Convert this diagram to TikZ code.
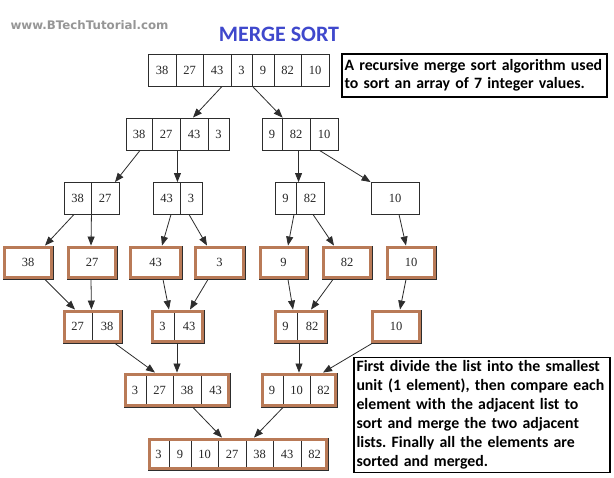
\documentclass[tikz,border=0pt]{standalone}
\usepackage{fontspec}
\setmainfont{Liberation Serif}
\newfontfamily\calfont{Carlito}
\newfontfamily\wmfont{DejaVu Sans}
\usetikzlibrary{arrows.meta,fit}
\definecolor{brownc}{RGB}{185,122,87}
\definecolor{titleblue}{RGB}{63,72,204}
\definecolor{wmgray}{RGB}{150,150,150}
\definecolor{linec}{RGB}{45,45,45}
\frenchspacing
\newcommand\mkrow[3]{%
  \foreach \nm/\xl/\xr/\lab in {#3}{%
    \node[cell, minimum width={\xr-\xl}, minimum height={#2-#1}] (\nm) at ({(\xl+\xr)/2},{(#1+#2)/2}) {\lab};
  }}
\begin{document}
\begin{tikzpicture}[x=1pt,y=-1pt,
  cell/.style={draw=linec, line width=0.9pt, inner sep=0pt, text=black!85,
    font=\fontsize{12.5}{14}\selectfont},
  brownbox/.style={draw=brownc, line width=3.5pt, inner sep=-1.75pt},
  arr/.style={draw=linec, line width=0.8pt, -{Triangle[length=9pt,width=7pt]}},
  infobox/.style={draw=black, line width=1.3pt, inner xsep=2.5pt, inner ysep=0pt,
    align=left, text=black}]
\fill[white] (0,0) rectangle (614,478);
\useasboundingbox (0,0) rectangle (614,478);

\node[font=\wmfont\bfseries\fontsize{11.8}{14}\selectfont, text=wmgray, anchor=west] (wm) at (7,25) {www.BTechTutorial.com};
\node[font=\calfont\bfseries\fontsize{22}{26}\selectfont, text=titleblue] (title) at (279,34) {MERGE SORT};

% level 1
\mkrow{54}{86}{t1/148/176/38, t2/176/203/27, t3/203/231/43, t4/231/252/3, t5/252/274/9, t6/274/301/82, t7/301/329/10}
% level 2
\mkrow{118}{150}{p1/126/152/38, p2/152/180/27, p3/180/208/43, p4/208/229/3}
\mkrow{118}{150}{q1/262/282/9, q2/282/310/82, q3/310/338/10}
% level 3
\mkrow{182.5}{214}{a1/64/91/38, a2/91/119/27, b1/153/180/43, b2/180/202/3, c1/275/296/9, c2/296/324/82, d1/371/419/10}
% level 4
\mkrow{246}{279}{s1/3/53/38, s2/67/117/27, s3/129/182/43, s4/194/245/3, s5/259/308/9, s6/322/372/82, s7/386/436/10}
% level 5
\mkrow{310}{343}{e1/63/92/27, e2/92/122/38, f1/151/174/3, f2/174/204/43, g1/274/297/9, g2/297/327/82, h1/371/421/10}
% level 6
\mkrow{373}{407}{i1/124/146/3, i2/146/173/27, i3/173/201/38, i4/201/230/43, j1/261/283/9, j2/283/310/10, j3/310/337/82}
% level 7
\mkrow{438}{470}{k1/148/169/3, k2/169/191/9, k3/191/218/10, k4/218/246/27, k5/246/273/38, k6/273/301/43, k7/301/328/82}

% brown outlines
\foreach \c in {s1,s2,s3,s4,s5,s6,s7,h1}{\node[brownbox, fit=(\c)] (B\c) {};}
\node[brownbox, fit=(e1)(e2)] (E) {};
\node[brownbox, fit=(f1)(f2)] (F) {};
\node[brownbox, fit=(g1)(g2)] (G) {};
\node[brownbox, fit=(i1)(i4)] (I) {};
\node[brownbox, fit=(j1)(j3)] (J) {};
\node[brownbox, fit=(k1)(k7)] (K) {};

% arrows
\draw[arr] ([xshift=5pt]t3.south) -- ([xshift=-1pt]p3.north);
\draw[arr] ([xshift=1pt]t5.south west) -- ([xshift=1pt]q2.north west);
\draw[arr] ([xshift=1pt]p1.south) -- ([xshift=10pt]a2.north);
\draw[arr] ([xshift=-3pt]p2.south east) -- ([xshift=-3pt]b1.north east);
\draw[arr] ([xshift=17pt]q2.south west) -- ([xshift=3pt]c2.north west);
\draw[arr] ([xshift=10pt]q3.south west) -- (d1.north west);
\draw[arr] ([xshift=-3.5pt]a1.south) -- ([xshift=17pt]s1.north);
\draw[arr] (a1.south east) -- ([xshift=-1pt]s2.north);
\draw[arr] ([xshift=4.5pt]b1.south) -- ([xshift=6.5pt]s3.north);
\draw[arr] ([xshift=-2pt]b2.south) -- ([xshift=-12.5pt]s4.north);
\draw[arr] ([xshift=8.5pt]c1.south) -- ([xshift=4.5pt]s5.north);
\draw[arr] ([xshift=3pt]c2.south) -- ([xshift=-13pt]s6.north);
\draw[arr] ([xshift=4pt]d1.south) -- ([xshift=-5pt]s7.north);
\draw[arr] ([xshift=17pt]s1.south) -- ([xshift=-2.5pt]e1.north);
\draw[arr] ([xshift=-1pt]s2.south) -- ([xshift=-1pt]e1.north east);
\draw[arr] ([xshift=7.5pt]s3.south) -- ([xshift=6.5pt]f1.north);
\draw[arr] ([xshift=-11.5pt]s4.south) -- ([xshift=1pt]f2.north);
\draw[arr] ([xshift=4.5pt]s5.south) -- ([xshift=7.5pt]g1.north);
\draw[arr] ([xshift=-14pt]s6.south) -- ([xshift=-1pt]g2.north);
\draw[arr] ([xshift=-5pt]s7.south) -- ([xshift=4pt]h1.north);
\draw[arr] ([xshift=8pt]e2.south) -- ([xshift=-4.5pt]i2.north);
\draw[arr] ([xshift=-12pt]f2.south) -- ([xshift=-10pt]i3.north);
\draw[arr] ([xshift=-13pt]g2.south) -- ([xshift=2.5pt]j2.north);
\draw[arr] ([xshift=-24pt]h1.south) -- ([xshift=-0.5pt]j3.north);
\draw[arr] ([xshift=6pt]i3.south) -- ([xshift=-10pt]k4.north);
\draw[arr] ([xshift=-13.5pt]j2.south) -- ([xshift=-5.5pt]k5.north);

% info boxes
\node[infobox, minimum width=265pt, minimum height=43pt, text width=260pt,
  font=\calfont\bfseries\fontsize{15.8}{17.7}\selectfont] (info1) at (474.5,75.5)
  {A recursive merge sort algorithm used\\to sort an array of 7 integer values.};
\node[infobox, minimum width=256pt, minimum height=114.6pt, text width=251pt,
  font=\calfont\bfseries\fontsize{15.8}{19.1}\selectfont] (info2) at (482,415)
  {First divide the list into the smallest\\unit (1 element), then compare each\\element with the adjacent list to\\sort and merge the two adjacent\\lists. Finally all the elements are\\sorted and merged.};
\end{tikzpicture}
\end{document}
